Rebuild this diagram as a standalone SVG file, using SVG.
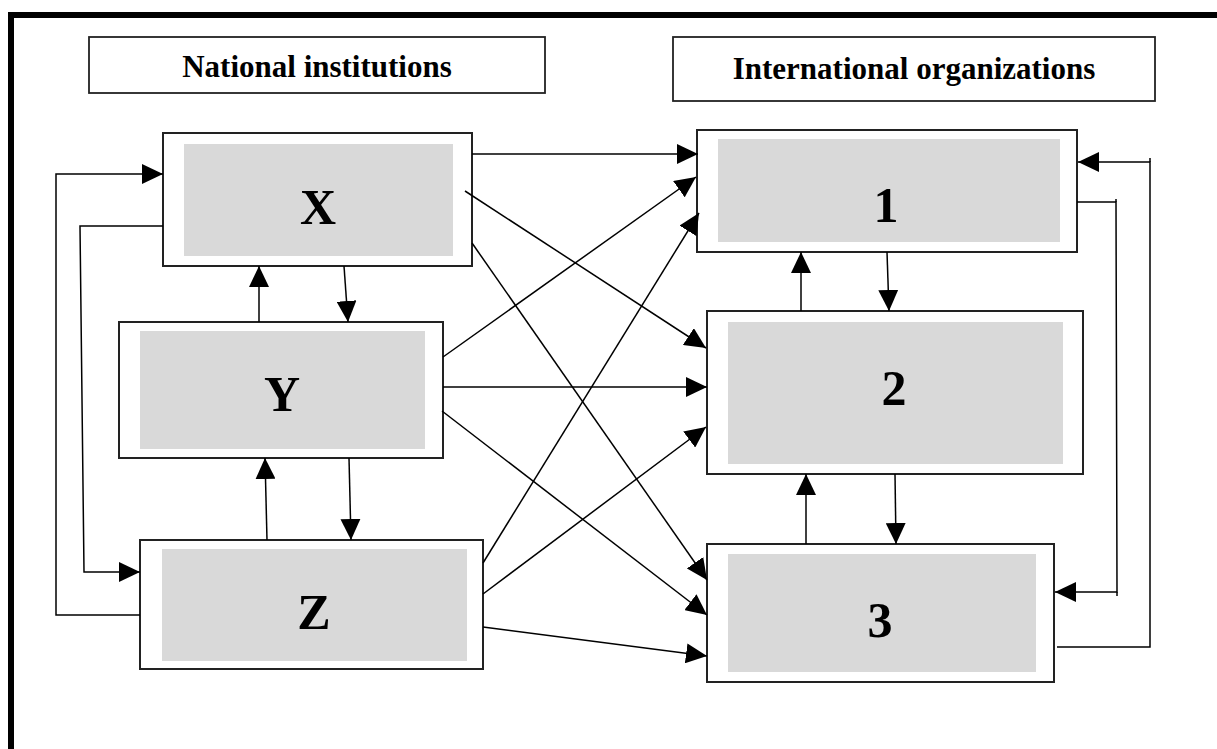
<svg xmlns="http://www.w3.org/2000/svg" width="1217" height="749" viewBox="0 0 1217 749">
<style>
.frame{fill:none;stroke:#000;stroke-width:6}
.hdr{fill:#fff;stroke:#222;stroke-width:1.8}
.box{fill:#fff;stroke:#222;stroke-width:2}
.inner{fill:#d9d9d9;stroke:none}
.ht{font-family:"Liberation Serif","Times New Roman",serif;font-weight:bold;font-size:31px;fill:#000;text-anchor:middle}
.lbl{font-family:"Liberation Serif","Times New Roman",serif;font-weight:bold;font-size:50px;fill:#000;text-anchor:middle}
.c{fill:none;stroke:#000;stroke-width:1.5}
</style>
<defs>
<marker id="ah" markerUnits="userSpaceOnUse" markerWidth="21" markerHeight="20" refX="21" refY="10" orient="auto">
<path d="M0,0 L21,10 L0,20 Z" fill="#000"/>
</marker>
</defs>
<rect width="1217" height="749" fill="#fff"/>
<path class="frame" d="M11,760 L11,15 L1230,15"/>

<g id="hdr-national">
<rect class="hdr" x="89" y="37" width="456" height="56"/>
<text class="ht" x="317" y="77">National institutions</text>
</g>
<g id="hdr-international">
<rect class="hdr" x="673" y="37" width="482" height="64"/>
<text class="ht" x="914" y="79">International organizations</text>
</g>

<g id="node-X">
<rect class="box" x="163" y="133" width="309" height="133"/>
<rect class="inner" x="184" y="144" width="269" height="112"/>
<text class="lbl" x="318" y="224">X</text>
</g>
<g id="node-Y">
<rect class="box" x="119" y="322" width="324" height="136"/>
<rect class="inner" x="140" y="331" width="285" height="118"/>
<text class="lbl" x="282" y="411">Y</text>
</g>
<g id="node-Z">
<rect class="box" x="140" y="540" width="343" height="129"/>
<rect class="inner" x="162" y="549" width="305" height="112"/>
<text class="lbl" x="314" y="629">Z</text>
</g>
<g id="node-1">
<rect class="box" x="697" y="130" width="380" height="122"/>
<rect class="inner" x="718" y="139" width="342" height="103"/>
<text class="lbl" x="886" y="222">1</text>
</g>
<g id="node-2">
<rect class="box" x="707" y="311" width="376" height="163"/>
<rect class="inner" x="728" y="322" width="335" height="142"/>
<text class="lbl" x="894" y="405">2</text>
</g>
<g id="node-3">
<rect class="box" x="707" y="544" width="347" height="138"/>
<rect class="inner" x="728" y="554" width="308" height="118"/>
<text class="lbl" x="880" y="637">3</text>
</g>

<g id="connectors">
<!-- left loops -->
<polyline class="c" points="140,615 56,615 56,174 163,174" marker-end="url(#ah)"/>
<polyline class="c" points="163,226 80,226 84,572 140,572" marker-end="url(#ah)"/>
<!-- X/Y/Z verticals -->
<line class="c" x1="259" y1="322" x2="259" y2="266" marker-end="url(#ah)"/>
<line class="c" x1="344" y1="266" x2="348" y2="322" marker-end="url(#ah)"/>
<line class="c" x1="267" y1="540" x2="265" y2="458" marker-end="url(#ah)"/>
<line class="c" x1="349" y1="458" x2="351" y2="540" marker-end="url(#ah)"/>
<!-- cross connectors -->
<line class="c" x1="472" y1="154" x2="698" y2="154" marker-end="url(#ah)"/>
<line class="c" x1="465" y1="191" x2="706" y2="348" marker-end="url(#ah)"/>
<line class="c" x1="472" y1="243" x2="707" y2="580" marker-end="url(#ah)"/>
<line class="c" x1="443" y1="357" x2="696" y2="177" marker-end="url(#ah)"/>
<line class="c" x1="443" y1="387" x2="707" y2="387" marker-end="url(#ah)"/>
<line class="c" x1="442" y1="411" x2="707" y2="615" marker-end="url(#ah)"/>
<line class="c" x1="483" y1="563" x2="699" y2="213" marker-end="url(#ah)"/>
<line class="c" x1="483" y1="594" x2="706" y2="427" marker-end="url(#ah)"/>
<line class="c" x1="483" y1="627" x2="707" y2="656" marker-end="url(#ah)"/>
<!-- 1/2/3 verticals -->
<line class="c" x1="801" y1="311" x2="801" y2="252" marker-end="url(#ah)"/>
<line class="c" x1="887" y1="252" x2="889" y2="311" marker-end="url(#ah)"/>
<line class="c" x1="806" y1="544" x2="806" y2="474" marker-end="url(#ah)"/>
<line class="c" x1="895" y1="474" x2="896" y2="544" marker-end="url(#ah)"/>
<!-- right loops -->
<polyline class="c" points="1057,647 1150,647 1150,162 1078,162" marker-end="url(#ah)"/>
<line class="c" x1="1150" y1="158" x2="1150" y2="162"/>
<polyline class="c" points="1077,202 1116,202 1117,592 1055,592" marker-end="url(#ah)"/>
<line class="c" x1="1116" y1="199" x2="1116" y2="202"/>
<line class="c" x1="1117" y1="592" x2="1117" y2="596"/>
</g>
</svg>
